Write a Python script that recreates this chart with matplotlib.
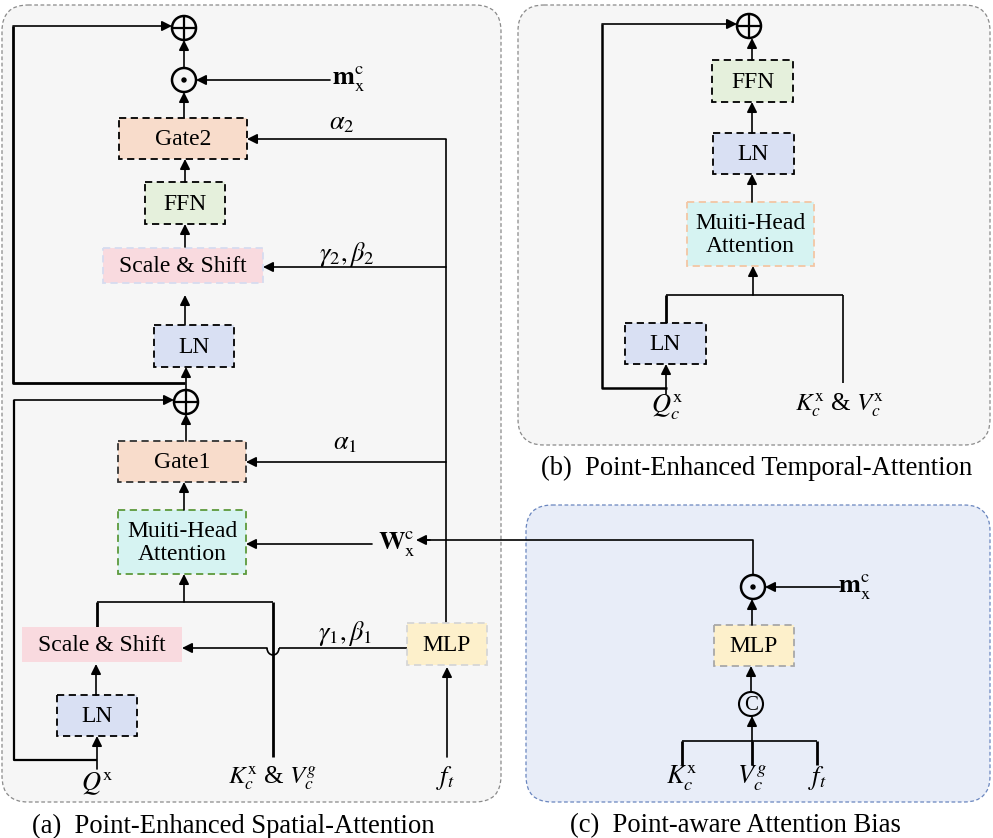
import matplotlib
matplotlib.use("Agg")
import matplotlib.pyplot as plt
from matplotlib.patches import FancyBboxPatch, Rectangle, Circle, Arc

plt.rcParams['font.family'] = ['Liberation Serif', 'DejaVu Serif']
plt.rcParams['mathtext.fontset'] = 'stix'

# texts of the diagram
captions = ["(a)  Point-Enhanced Spatial-Attention",
            "(b)  Point-Enhanced Temporal-Attention",
            "(c)  Point-aware Attention Bias"]
box_labels = ["Gate2", "FFN", "Scale & Shift", "LN", "Gate1",
              "Muiti-Head\nAttention", "Scale & Shift", "LN", "MLP",
              "FFN", "LN", "Muiti-Head\nAttention", "LN", "MLP"]
math_labels = [r"$\mathbf{m}_{\mathrm{x}}^{\mathrm{c}}$", r"$\alpha_2$",
               r"$\gamma_2,\beta_2$", r"$\alpha_1$",
               r"$\mathbf{W}_{\mathrm{x}}^{\mathrm{c}}$", r"$\gamma_1,\beta_1$",
               r"$Q^{\mathrm{x}}$", r"$K_c^{\mathrm{x}}$ & $V_c^g$", r"$f_t$",
               r"$Q_c^{\mathrm{x}}$", r"$K_c^{\mathrm{x}}$ & $V_c^{\mathrm{x}}$",
               r"$\mathbf{m}_{\mathrm{x}}^{\mathrm{c}}$",
               r"$K_c^{\mathrm{x}}$", r"$V_c^g$", r"$f_t$"]

fig = plt.figure(figsize=(9.93, 8.38), dpi=100)
ax = fig.add_axes([0, 0, 1, 1])
ax.set_xlim(0, 993)
ax.set_ylim(838, 0)
ax.axis('off')

LW = 1.2
MS = 19  # size of the math labels


def panel(x0, y0, x1, y1, fc, ec):
    ax.add_patch(FancyBboxPatch((x0, y0), x1 - x0, y1 - y0,
                                boxstyle="round,pad=0,rounding_size=26",
                                fc=fc, ec=ec, lw=0.9, ls=(0, (3, 2)), zorder=0))


def box(x0, y0, x1, y1, label, fc, ec, size=17):
    ax.add_patch(Rectangle((x0, y0), x1 - x0, y1 - y0, fc=fc, ec=ec,
                           lw=1.3, ls=(0, (4, 2.5)), zorder=2))
    ax.text((x0 + x1) / 2, (y0 + y1) / 2 + 1, label, ha='center', va='center',
            fontsize=size, linespacing=1.15, zorder=3)


def arrow(x0, y0, x1, y1, lw=LW):
    ax.annotate("", xy=(x1, y1), xytext=(x0, y0),
                arrowprops=dict(arrowstyle='-|>', color='k', lw=lw,
                                mutation_scale=15, shrinkA=0, shrinkB=0),
                zorder=4)


def line(xs, ys, lw=LW):
    ax.plot(xs, ys, color='k', lw=lw, solid_capstyle='butt', zorder=1)


def oplus(x, y, r=12):
    ax.add_patch(Circle((x, y), r, fc='none', ec='k', lw=1.8, zorder=3))
    line([x - r, x + r], [y, y], 1.6)
    line([x, x], [y - r, y + r], 1.6)


def odot(x, y, r=12):
    ax.add_patch(Circle((x, y), r, fc='none', ec='k', lw=1.8, zorder=3))
    ax.add_patch(Circle((x, y), 2, fc='k', ec='k', zorder=3))


def mtext(x, y, s, ha='center', size=MS):
    ax.text(x, y, s, ha=ha, va='center', fontsize=size, zorder=3)


# panels
panel(2, 5, 501, 802, '#f6f6f6', '#8a8a8a')
panel(518, 5, 990, 445, '#f6f6f6', '#8a8a8a')
panel(526, 505, 990, 802, '#e8edf8', '#6a86bf')

peach, green, pink = '#f8dccb', '#e5f0dc', '#f9dadf'
blue, cyan, yellow = '#d9e0f3', '#d6f3f2', '#fdf0cb'

# ---- panel (a)
box(119, 118, 247, 159, box_labels[0], peach, 'k')
box(145, 182, 225, 224, box_labels[1], green, 'k')
box(103, 248, 263, 283, box_labels[2], pink, '#d6dcf0')
box(154, 325, 234, 367, box_labels[3], blue, 'k')
box(118, 441, 246, 482, box_labels[4], peach, '#333333')
box(118, 510, 246, 574, box_labels[5], cyan, '#5d9a3c')
box(22, 627, 182, 662, box_labels[6], pink, 'none')
box(57, 695, 137, 736, box_labels[7], blue, 'k')
box(407, 623, 487, 665, box_labels[8], yellow, '#d6d6d6')

oplus(184, 28)
odot(184, 80)
oplus(186, 402)

line([185, 13, 13], [383, 383, 26], 2.0)
arrow(13, 26, 172, 26)
line([97, 14, 14], [760, 760, 400], 1.6)
arrow(14, 400, 174, 400)

arrow(184, 117, 184, 92)
arrow(184, 68, 184, 40)
arrow(330, 80, 196, 80)
arrow(185, 182, 185, 159)
arrow(185, 247, 185, 224)
arrow(185, 325, 185, 295)
arrow(186, 390, 186, 367)
arrow(186, 441, 186, 414)
arrow(184, 510, 184, 482)

line([446, 446], [623, 139])
arrow(446, 139, 247, 139)
arrow(446, 267, 263, 267)
arrow(446, 462, 246, 462)

arrow(372, 544, 246, 544)
line([753, 753, 425], [576, 540, 540])
arrow(430, 540, 416, 540)

line([97, 97], [627, 602], 2.0)
line([97, 273], [602, 602])
line([273, 273], [602, 757], 2.0)
arrow(184, 602, 184, 574)

line([407, 279], [648, 648])
ax.add_patch(Arc((273, 648), 12, 14, theta1=0, theta2=180, color='k',
                 lw=LW, zorder=1))
arrow(267, 648, 182, 648)
arrow(447, 757, 447, 667)
arrow(96, 695, 96, 664)
arrow(97, 769, 97, 736)

mtext(332, 79, math_labels[0], ha='left')
mtext(342, 124, math_labels[1])
mtext(347, 254, math_labels[2])
mtext(345, 444, math_labels[3])
mtext(378, 544, math_labels[4], ha='left')
mtext(345, 633, math_labels[5])
mtext(97, 784, math_labels[6])
mtext(273, 778, math_labels[7], size=18)
mtext(445, 778, math_labels[8])

# ---- panel (b)
box(712, 60, 793, 102, box_labels[9], green, 'k')
box(713, 133, 794, 174, box_labels[10], blue, 'k')
box(687, 202, 814, 266, box_labels[11], cyan, '#f3c6a4')
box(625, 323, 706, 364, box_labels[12], blue, 'k')

oplus(749, 26)
line([667, 602, 602], [388, 388, 24], 1.8)
arrow(602, 24, 737, 24)
arrow(752, 60, 752, 38)
arrow(752, 133, 752, 102)
arrow(752, 202, 752, 174)
arrow(753, 295, 753, 266)
line([666, 666], [323, 295], 2.0)
line([666, 843], [295, 295])
line([843, 843], [295, 383])
arrow(666, 394, 666, 364)

mtext(667, 407, math_labels[9])
mtext(840, 405, math_labels[10], size=18)

# ---- panel (c)
box(714, 625, 794, 666, box_labels[13], yellow, '#a8a8a8')
odot(753, 587)
arrow(840, 587, 765, 587)
arrow(752, 625, 752, 599)
ax.add_patch(Circle((751, 704), 12, fc='none', ec='k', lw=1.5, zorder=3))
ax.text(751, 705, "C", ha='center', va='center', fontsize=15, zorder=3)
arrow(751, 692, 751, 666)
arrow(752, 741, 752, 716)
line([682, 817], [741, 741])
for xk in (682, 752, 817):
    line([xk, xk], [741, 765], 2.0)

mtext(838, 587, math_labels[11], ha='left')
mtext(682, 778, math_labels[12])
mtext(752, 778, math_labels[13])
mtext(817, 778, math_labels[14])

# captions
ax.text(32, 826, captions[0], ha='left', va='center', fontsize=19.2)
ax.text(541, 468, captions[1], ha='left', va='center', fontsize=19.2)
ax.text(570, 826, captions[2], ha='left', va='center', fontsize=19.2)

fig.savefig("out.png", dpi=100, facecolor='white')
